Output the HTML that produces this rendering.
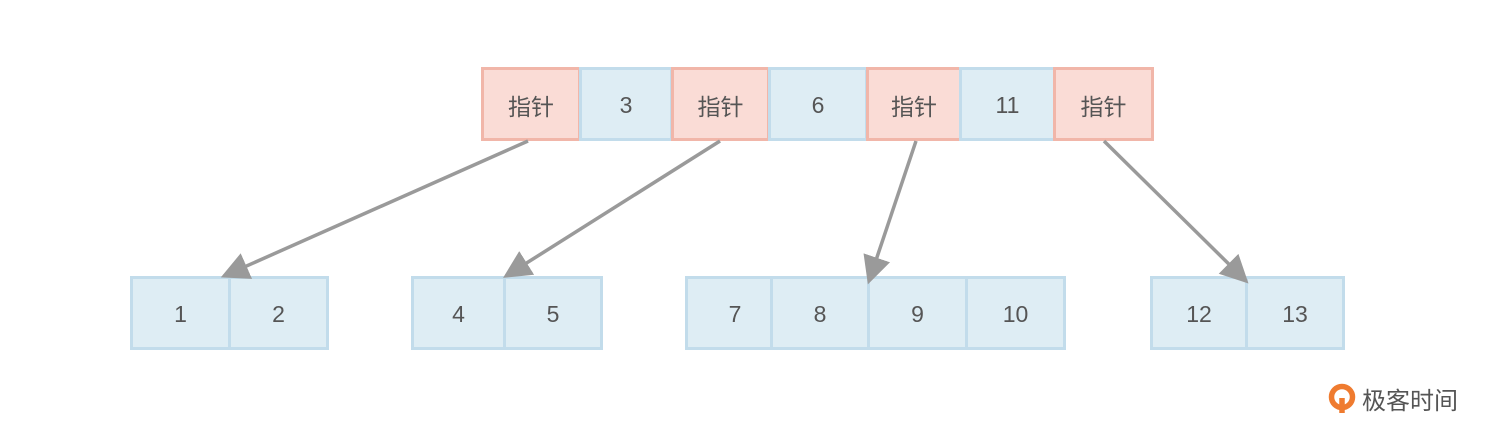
<!DOCTYPE html>
<html><head><meta charset="utf-8"><style>
html,body{margin:0;padding:0;background:#fff;}
body{width:1501px;height:443px;position:relative;overflow:hidden;font-family:"Liberation Sans","Noto Sans CJK SC",sans-serif;}
.c{position:absolute;box-sizing:border-box;display:flex;align-items:center;justify-content:center;font-size:23px;color:#555;padding-top:2px;}
.p{background:#fadcd6;border:3px solid #f1b6a9;}
.b{background:#deedf4;border:3px solid #c2dceb;}
svg{position:absolute;left:0;top:0;}
.logo{position:absolute;left:1328px;top:381px;font-size:24px;color:#555;display:flex;align-items:center;}
</style></head><body>
<div class="c p" style="left:481px;top:67px;width:100px;height:74px">指针</div>
<div class="c b" style="left:579px;top:67px;width:94px;height:74px">3</div>
<div class="c p" style="left:671px;top:67px;width:99px;height:74px">指针</div>
<div class="c b" style="left:768px;top:67px;width:100px;height:74px">6</div>
<div class="c p" style="left:866px;top:67px;width:96px;height:74px">指针</div>
<div class="c b" style="left:959px;top:67px;width:97px;height:74px">11</div>
<div class="c p" style="left:1053px;top:67px;width:101px;height:74px">指针</div>

<div class="c b" style="left:130px;top:276px;width:101px;height:74px">1</div>
<div class="c b" style="left:228px;top:276px;width:101px;height:74px">2</div>
<div class="c b" style="left:411px;top:276px;width:95px;height:74px">4</div>
<div class="c b" style="left:503px;top:276px;width:100px;height:74px">5</div>
<div class="c b" style="left:685px;top:276px;width:88px;height:74px;padding-left:12px">7</div>
<div class="c b" style="left:770px;top:276px;width:100px;height:74px">8</div>
<div class="c b" style="left:867px;top:276px;width:101px;height:74px">9</div>
<div class="c b" style="left:965px;top:276px;width:101px;height:74px">10</div>
<div class="c b" style="left:1150px;top:276px;width:98px;height:74px">12</div>
<div class="c b" style="left:1245px;top:276px;width:100px;height:74px">13</div>

<svg width="1501" height="443">
<defs><marker id="a" markerWidth="8" markerHeight="8" refX="7" refY="4" orient="auto" markerUnits="strokeWidth"><path d="M0,0 L8,4 L0,8 z" fill="#9a9a9a"/></marker></defs>
<g stroke="#9a9a9a" stroke-width="3.5" fill="none">
<line x1="528" y1="141" x2="224" y2="276" marker-end="url(#a)"/>
<line x1="720" y1="141" x2="506" y2="276" marker-end="url(#a)"/>
<line x1="916" y1="141" x2="869" y2="281" marker-end="url(#a)"/>
<line x1="1104" y1="141" x2="1246" y2="281" marker-end="url(#a)"/>
</g>
</svg>
<div class="logo"><svg width="30" height="32" style="position:static"><circle cx="14" cy="14" r="10.5" fill="none" stroke="#ef7b2f" stroke-width="5.5"/><path d="M14 15 L14 30" stroke="#ef7b2f" stroke-width="5.5"/></svg><span style="margin-left:4px">极客时间</span></div>
</body></html>
